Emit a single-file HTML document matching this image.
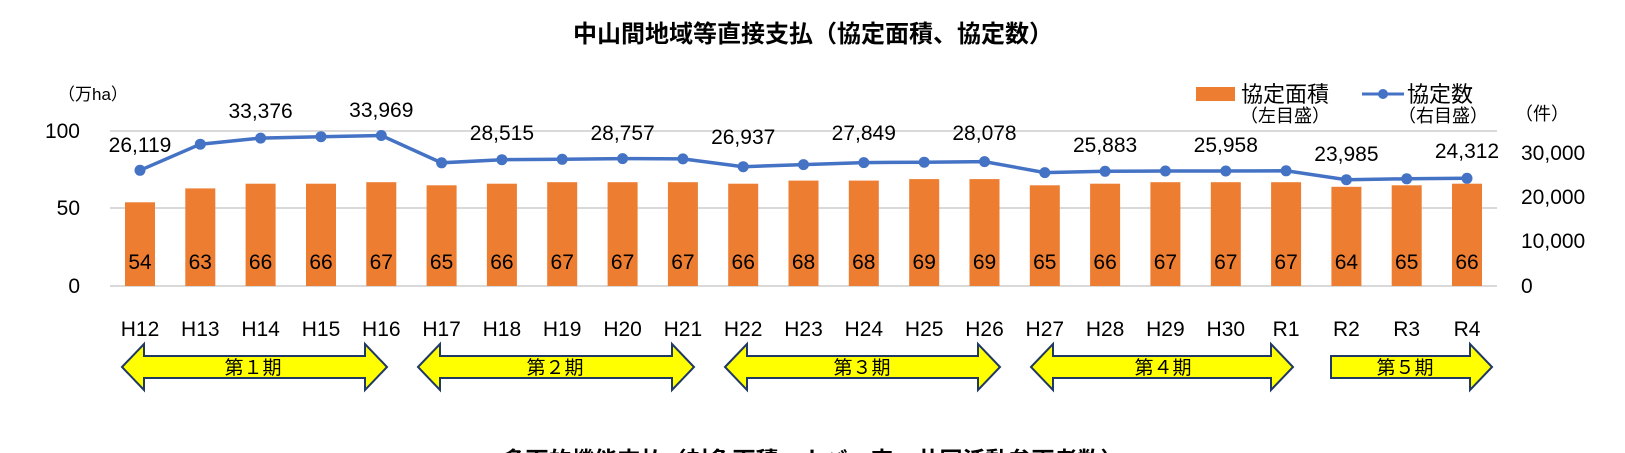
<!DOCTYPE html>
<html><head><meta charset="utf-8"><style>
html,body{margin:0;padding:0;background:#fff;width:1625px;height:453px;overflow:hidden}
svg{display:block}
text{font-family:"Liberation Sans","Noto Sans CJK JP",sans-serif;fill:#000}
</style></head><body>
<svg width="1625" height="453" viewBox="0 0 1625 453" xmlns="http://www.w3.org/2000/svg">
<text x="813" y="42" font-size="24" font-weight="bold" text-anchor="middle">中山間地域等直接支払（協定面積、協定数）</text>
<text x="813" y="468" font-size="23" font-weight="bold" text-anchor="middle">多面的機能支払（対象面積、カバー率、共同活動参画者数）</text>
<g stroke="#d9d9d9" stroke-width="2">
<line x1="110" y1="131" x2="1497" y2="131"/>
<line x1="110" y1="208" x2="1497" y2="208"/>
<line x1="110" y1="286" x2="1497" y2="286"/>
</g>
<g font-size="21" text-anchor="end">
<text x="80" y="138">100</text><text x="80" y="215">50</text><text x="80" y="293">0</text>
</g>
<text x="58" y="100" font-size="17">（万ha）</text>
<g font-size="21">
<text x="1521" y="160">30,000</text><text x="1521" y="204">20,000</text><text x="1521" y="248">10,000</text><text x="1521" y="293">0</text>
</g>
<text x="1515" y="120" font-size="18">（件）</text>
<rect x="1196" y="87" width="39" height="14" fill="#ed7d31"/>
<text x="1241" y="102" font-size="22" fill="#333">協定面積</text>
<text x="1240" y="122" font-size="18" fill="#333">（左目盛）</text>
<line x1="1362" y1="94" x2="1404" y2="94" stroke="#4472c4" stroke-width="3"/>
<circle cx="1383" cy="94" r="5" fill="#4472c4"/>
<text x="1407" y="102" font-size="22" fill="#333">協定数</text>
<text x="1398" y="122" font-size="18" fill="#333">（右目盛）</text>

<g fill="#ed7d31">
<rect x="125" y="202.3" width="30" height="83.7"/>
<rect x="185.3" y="188.4" width="30" height="97.6"/>
<rect x="245.6" y="183.7" width="30" height="102.3"/>
<rect x="306" y="183.7" width="30" height="102.3"/>
<rect x="366.3" y="182.2" width="30" height="103.8"/>
<rect x="426.6" y="185.3" width="30" height="100.7"/>
<rect x="486.9" y="183.7" width="30" height="102.3"/>
<rect x="547.2" y="182.2" width="30" height="103.8"/>
<rect x="607.6" y="182.2" width="30" height="103.8"/>
<rect x="667.9" y="182.2" width="30" height="103.8"/>
<rect x="728.2" y="183.7" width="30" height="102.3"/>
<rect x="788.5" y="180.6" width="30" height="105.4"/>
<rect x="848.8" y="180.6" width="30" height="105.4"/>
<rect x="909.2" y="179.1" width="30" height="106.9"/>
<rect x="969.5" y="179.1" width="30" height="106.9"/>
<rect x="1029.8" y="185.3" width="30" height="100.7"/>
<rect x="1090.1" y="183.7" width="30" height="102.3"/>
<rect x="1150.4" y="182.2" width="30" height="103.8"/>
<rect x="1210.8" y="182.2" width="30" height="103.8"/>
<rect x="1271.1" y="182.2" width="30" height="103.8"/>
<rect x="1331.4" y="186.8" width="30" height="99.2"/>
<rect x="1391.7" y="185.3" width="30" height="100.7"/>
<rect x="1452" y="183.7" width="30" height="102.3"/>
</g>
<g font-size="21" text-anchor="middle" fill="#222">
<text x="140" y="269">54</text><text x="200.3" y="269">63</text><text x="260.6" y="269">66</text><text x="321" y="269">66</text><text x="381.3" y="269">67</text><text x="441.6" y="269">65</text><text x="501.9" y="269">66</text><text x="562.2" y="269">67</text><text x="622.6" y="269">67</text><text x="682.9" y="269">67</text><text x="743.2" y="269">66</text><text x="803.5" y="269">68</text><text x="863.8" y="269">68</text><text x="924.2" y="269">69</text><text x="984.5" y="269">69</text><text x="1044.8" y="269">65</text><text x="1105.1" y="269">66</text><text x="1165.4" y="269">67</text><text x="1225.8" y="269">67</text><text x="1286.1" y="269">67</text><text x="1346.4" y="269">64</text><text x="1406.7" y="269">65</text><text x="1467" y="269">66</text>
</g>
<g font-size="21" text-anchor="middle">
<text x="140" y="336">H12</text><text x="200.3" y="336">H13</text><text x="260.6" y="336">H14</text><text x="321" y="336">H15</text><text x="381.3" y="336">H16</text><text x="441.6" y="336">H17</text><text x="501.9" y="336">H18</text><text x="562.2" y="336">H19</text><text x="622.6" y="336">H20</text><text x="682.9" y="336">H21</text><text x="743.2" y="336">H22</text><text x="803.5" y="336">H23</text><text x="863.8" y="336">H24</text><text x="924.2" y="336">H25</text><text x="984.5" y="336">H26</text><text x="1044.8" y="336">H27</text><text x="1105.1" y="336">H28</text><text x="1165.4" y="336">H29</text><text x="1225.8" y="336">H30</text><text x="1286.1" y="336">R1</text><text x="1346.4" y="336">R2</text><text x="1406.7" y="336">R3</text><text x="1467" y="336">R4</text>
</g>
<polyline fill="none" stroke="#4472c4" stroke-width="3.5" points="140,170.3 200.3,144.2 260.6,138.1 321,136.7 381.3,135.5 441.6,162.8 501.9,159.7 562.2,159.3 622.6,158.6 682.9,158.9 743.2,166.7 803.5,164.6 863.8,162.6 924.2,162.2 984.5,161.6 1044.8,172.6 1105.1,171.3 1165.4,171 1225.8,171 1286.1,170.8 1346.4,179.7 1406.7,178.8 1467,178.3"/>
<g fill="#4472c4">
<circle cx="140" cy="170.3" r="5.5"/><circle cx="200.3" cy="144.2" r="5.5"/><circle cx="260.6" cy="138.1" r="5.5"/><circle cx="321" cy="136.7" r="5.5"/><circle cx="381.3" cy="135.5" r="5.5"/><circle cx="441.6" cy="162.8" r="5.5"/><circle cx="501.9" cy="159.7" r="5.5"/><circle cx="562.2" cy="159.3" r="5.5"/><circle cx="622.6" cy="158.6" r="5.5"/><circle cx="682.9" cy="158.9" r="5.5"/><circle cx="743.2" cy="166.7" r="5.5"/><circle cx="803.5" cy="164.6" r="5.5"/><circle cx="863.8" cy="162.6" r="5.5"/><circle cx="924.2" cy="162.2" r="5.5"/><circle cx="984.5" cy="161.6" r="5.5"/><circle cx="1044.8" cy="172.6" r="5.5"/><circle cx="1105.1" cy="171.3" r="5.5"/><circle cx="1165.4" cy="171" r="5.5"/><circle cx="1225.8" cy="171" r="5.5"/><circle cx="1286.1" cy="170.8" r="5.5"/><circle cx="1346.4" cy="179.7" r="5.5"/><circle cx="1406.7" cy="178.8" r="5.5"/><circle cx="1467" cy="178.3" r="5.5"/>
</g>
<g font-size="21" text-anchor="middle">
<text x="140" y="152">26,119</text><text x="260.6" y="118">33,376</text><text x="381.3" y="117">33,969</text><text x="501.9" y="140">28,515</text><text x="622.6" y="140">28,757</text><text x="743.2" y="144">26,937</text><text x="863.8" y="140">27,849</text><text x="984.5" y="140">28,078</text><text x="1105.1" y="152">25,883</text><text x="1225.8" y="152">25,958</text><text x="1346.4" y="161">23,985</text><text x="1467" y="158">24,312</text>
</g>
<g fill="#ffff00" stroke="#1f3864" stroke-width="2">
<polygon points="122,367 144,344 144,356 365,356 365,344 387,367 365,390 365,378 144,378 144,390"/>
<polygon points="418,367 440,344 440,356 672,356 672,344 694,367 672,390 672,378 440,378 440,390"/>
<polygon points="725,367 747,344 747,356 978,356 978,344 1000,367 978,390 978,378 747,378 747,390"/>
<polygon points="1031,367 1053,344 1053,356 1271,356 1271,344 1293,367 1271,390 1271,378 1053,378 1053,390"/>
<polygon points="1331,356 1470,356 1470,344 1492,367 1470,390 1470,378 1331,378"/>
</g>
<g font-size="19" text-anchor="middle">
<text x="253" y="374">第１期</text><text x="555" y="374">第２期</text><text x="862" y="374">第３期</text><text x="1163" y="374">第４期</text><text x="1405" y="374">第５期</text>
</g>
</svg>
</body></html>
